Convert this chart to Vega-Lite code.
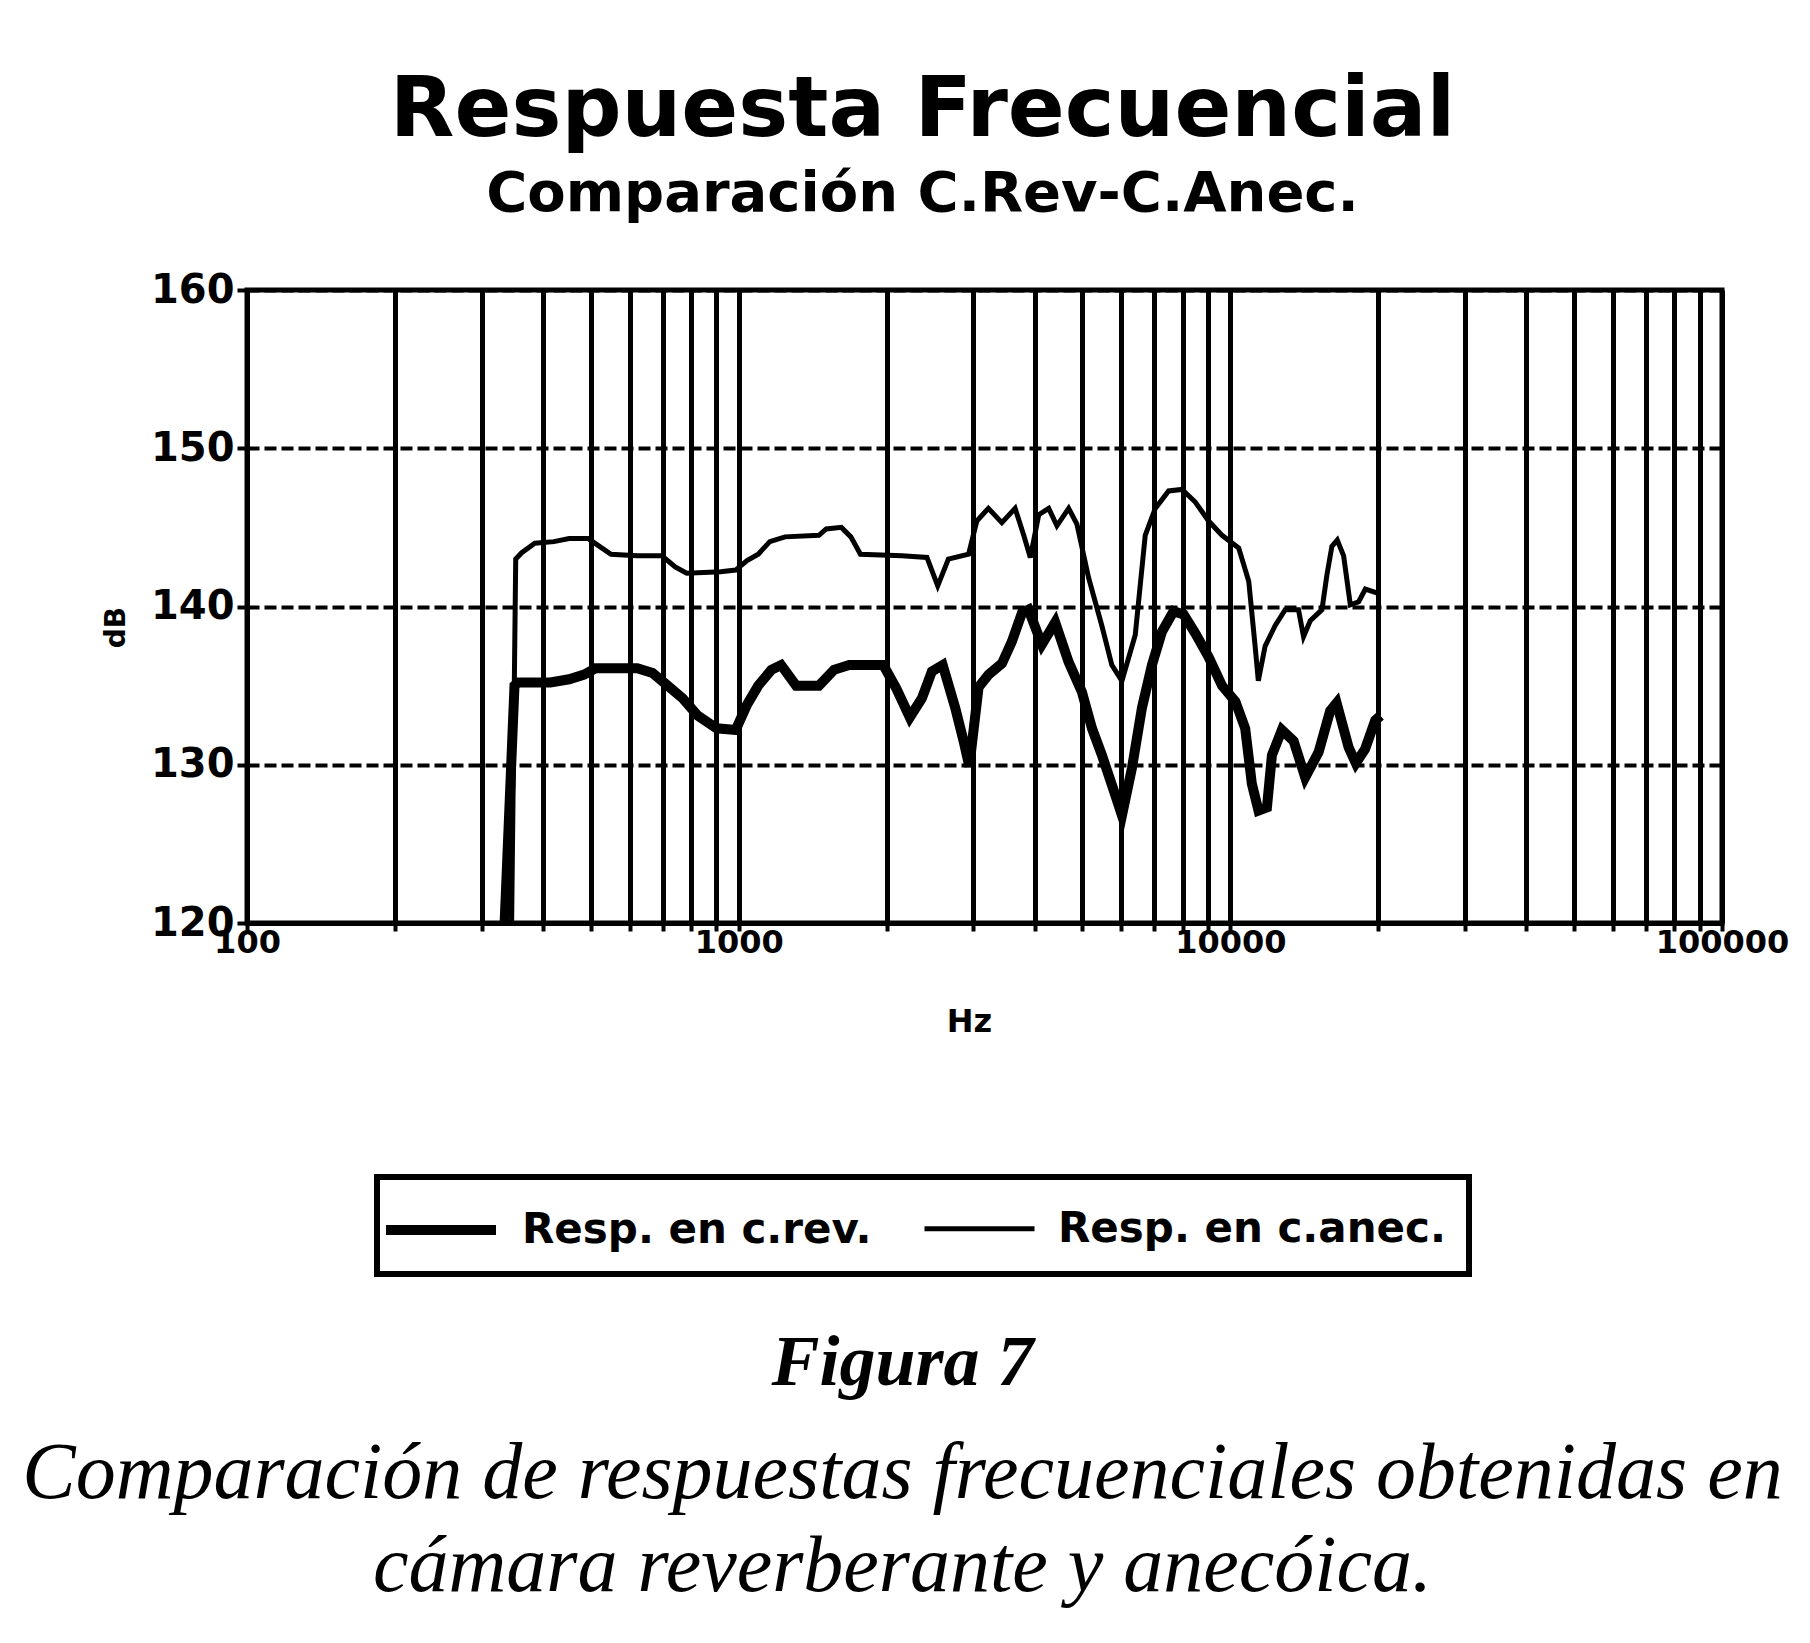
{
 "$schema": "https://vega.github.io/schema/vega-lite/v6.json",
 "background": "white",
 "padding": {"left": 22, "top": 66, "right": 5, "bottom": 5},
 "title": {
  "text": "Figura 7",
  "subtitle": ["Comparación de respuestas frecuenciales obtenidas en", "cámara reverberante y anecóica."],
  "orient": "bottom", "anchor": "middle", "frame": "group", "dx": -82, "offset": 51,
  "font": "Liberation Serif", "fontSize": 72, "fontWeight": "bold", "fontStyle": "italic", "color": "black",
  "subtitleFont": "Liberation Serif", "subtitleFontSize": 80, "subtitleFontStyle": "italic", "subtitleFontWeight": "normal",
  "subtitleColor": "black", "subtitleLineHeight": 93, "subtitlePadding": 35
 },
 "vconcat": [
  {
   "title": {
    "text": "Respuesta Frecuencial", "subtitle": "Comparación C.Rev-C.Anec.",
    "anchor": "middle", "frame": "group", "dx": -62, "offset": 47,
    "font": "DejaVu Sans", "fontSize": 84, "fontWeight": "bold", "color": "black",
    "subtitleFont": "DejaVu Sans", "subtitleFontSize": 56, "subtitleFontWeight": "bold", "subtitleColor": "black",
    "subtitlePadding": 13
   },
   "width": 1475,
   "height": 633,
   "data": {"values": [
    {"f": 343, "db": 112, "series": "Resp. en c.anec."},
    {"f": 352, "db": 143.0, "series": "Resp. en c.anec."},
    {"f": 362, "db": 143.4, "series": "Resp. en c.anec."},
    {"f": 385, "db": 144.0, "series": "Resp. en c.anec."},
    {"f": 421, "db": 144.1, "series": "Resp. en c.anec."},
    {"f": 452, "db": 144.3, "series": "Resp. en c.anec."},
    {"f": 494, "db": 144.3, "series": "Resp. en c.anec."},
    {"f": 521, "db": 143.8, "series": "Resp. en c.anec."},
    {"f": 550, "db": 143.3, "series": "Resp. en c.anec."},
    {"f": 622, "db": 143.2, "series": "Resp. en c.anec."},
    {"f": 698, "db": 143.2, "series": "Resp. en c.anec."},
    {"f": 743, "db": 142.5, "series": "Resp. en c.anec."},
    {"f": 784, "db": 142.1, "series": "Resp. en c.anec."},
    {"f": 919, "db": 142.2, "series": "Resp. en c.anec."},
    {"f": 986, "db": 142.3, "series": "Resp. en c.anec."},
    {"f": 1040, "db": 142.9, "series": "Resp. en c.anec."},
    {"f": 1096, "db": 143.3, "series": "Resp. en c.anec."},
    {"f": 1157, "db": 144.1, "series": "Resp. en c.anec."},
    {"f": 1242, "db": 144.4, "series": "Resp. en c.anec."},
    {"f": 1456, "db": 144.5, "series": "Resp. en c.anec."},
    {"f": 1507, "db": 144.9, "series": "Resp. en c.anec."},
    {"f": 1618, "db": 145.0, "series": "Resp. en c.anec."},
    {"f": 1691, "db": 144.4, "series": "Resp. en c.anec."},
    {"f": 1769, "db": 143.3, "series": "Resp. en c.anec."},
    {"f": 2148, "db": 143.2, "series": "Resp. en c.anec."},
    {"f": 2415, "db": 143.1, "series": "Resp. en c.anec."},
    {"f": 2540, "db": 141.3, "series": "Resp. en c.anec."},
    {"f": 2670, "db": 143.0, "series": "Resp. en c.anec."},
    {"f": 2935, "db": 143.3, "series": "Resp. en c.anec."},
    {"f": 3050, "db": 145.4, "series": "Resp. en c.anec."},
    {"f": 3220, "db": 146.2, "series": "Resp. en c.anec."},
    {"f": 3430, "db": 145.3, "series": "Resp. en c.anec."},
    {"f": 3650, "db": 146.2, "series": "Resp. en c.anec."},
    {"f": 3800, "db": 144.5, "series": "Resp. en c.anec."},
    {"f": 3919, "db": 143.1, "series": "Resp. en c.anec."},
    {"f": 4077, "db": 145.8, "series": "Resp. en c.anec."},
    {"f": 4272, "db": 146.2, "series": "Resp. en c.anec."},
    {"f": 4439, "db": 145.1, "series": "Resp. en c.anec."},
    {"f": 4690, "db": 146.2, "series": "Resp. en c.anec."},
    {"f": 4875, "db": 145.2, "series": "Resp. en c.anec."},
    {"f": 5150, "db": 141.8, "series": "Resp. en c.anec."},
    {"f": 5477, "db": 138.8, "series": "Resp. en c.anec."},
    {"f": 5741, "db": 136.3, "series": "Resp. en c.anec."},
    {"f": 6018, "db": 135.3, "series": "Resp. en c.anec."},
    {"f": 6406, "db": 138.2, "series": "Resp. en c.anec."},
    {"f": 6713, "db": 144.5, "series": "Resp. en c.anec."},
    {"f": 7036, "db": 146.2, "series": "Resp. en c.anec."},
    {"f": 7490, "db": 147.3, "series": "Resp. en c.anec."},
    {"f": 7973, "db": 147.4, "series": "Resp. en c.anec."},
    {"f": 8486, "db": 146.6, "series": "Resp. en c.anec."},
    {"f": 9034, "db": 145.4, "series": "Resp. en c.anec."},
    {"f": 9617, "db": 144.5, "series": "Resp. en c.anec."},
    {"f": 10400, "db": 143.7, "series": "Resp. en c.anec."},
    {"f": 10900, "db": 141.6, "series": "Resp. en c.anec."},
    {"f": 11230, "db": 137.5, "series": "Resp. en c.anec."},
    {"f": 11400, "db": 135.3, "series": "Resp. en c.anec."},
    {"f": 11770, "db": 137.5, "series": "Resp. en c.anec."},
    {"f": 12340, "db": 138.8, "series": "Resp. en c.anec."},
    {"f": 12930, "db": 139.8, "series": "Resp. en c.anec."},
    {"f": 13760, "db": 139.8, "series": "Resp. en c.anec."},
    {"f": 14090, "db": 138.1, "series": "Resp. en c.anec."},
    {"f": 14540, "db": 139.1, "series": "Resp. en c.anec."},
    {"f": 15360, "db": 139.8, "series": "Resp. en c.anec."},
    {"f": 15720, "db": 142.0, "series": "Resp. en c.anec."},
    {"f": 16090, "db": 143.8, "series": "Resp. en c.anec."},
    {"f": 16500, "db": 144.2, "series": "Resp. en c.anec."},
    {"f": 17000, "db": 143.2, "series": "Resp. en c.anec."},
    {"f": 17540, "db": 140.1, "series": "Resp. en c.anec."},
    {"f": 18240, "db": 140.3, "series": "Resp. en c.anec."},
    {"f": 18820, "db": 141.1, "series": "Resp. en c.anec."},
    {"f": 19710, "db": 140.9, "series": "Resp. en c.anec."},
    {"f": 20000, "db": 140.8, "series": "Resp. en c.anec."},
    {"f": 326, "db": 112, "series": "Resp. en c.rev."},
    {"f": 350, "db": 135.0, "series": "Resp. en c.rev."},
    {"f": 356, "db": 135.2, "series": "Resp. en c.rev."},
    {"f": 414, "db": 135.2, "series": "Resp. en c.rev."},
    {"f": 452, "db": 135.4, "series": "Resp. en c.rev."},
    {"f": 485, "db": 135.7, "series": "Resp. en c.rev."},
    {"f": 512, "db": 136.1, "series": "Resp. en c.rev."},
    {"f": 622, "db": 136.1, "series": "Resp. en c.rev."},
    {"f": 668, "db": 135.8, "series": "Resp. en c.rev."},
    {"f": 717, "db": 135.0, "series": "Resp. en c.rev."},
    {"f": 769, "db": 134.2, "series": "Resp. en c.rev."},
    {"f": 826, "db": 133.1, "series": "Resp. en c.rev."},
    {"f": 902, "db": 132.3, "series": "Resp. en c.rev."},
    {"f": 986, "db": 132.2, "series": "Resp. en c.rev."},
    {"f": 1040, "db": 133.8, "series": "Resp. en c.rev."},
    {"f": 1096, "db": 135.0, "series": "Resp. en c.rev."},
    {"f": 1166, "db": 136.0, "series": "Resp. en c.rev."},
    {"f": 1220, "db": 136.3, "series": "Resp. en c.rev."},
    {"f": 1309, "db": 135.0, "series": "Resp. en c.rev."},
    {"f": 1456, "db": 135.0, "series": "Resp. en c.rev."},
    {"f": 1563, "db": 136.0, "series": "Resp. en c.rev."},
    {"f": 1678, "db": 136.3, "series": "Resp. en c.rev."},
    {"f": 1969, "db": 136.3, "series": "Resp. en c.rev."},
    {"f": 2094, "db": 134.8, "series": "Resp. en c.rev."},
    {"f": 2229, "db": 133.0, "series": "Resp. en c.rev."},
    {"f": 2359, "db": 134.2, "series": "Resp. en c.rev."},
    {"f": 2472, "db": 135.9, "series": "Resp. en c.rev."},
    {"f": 2600, "db": 136.3, "series": "Resp. en c.rev."},
    {"f": 2757, "db": 133.6, "series": "Resp. en c.rev."},
    {"f": 2867, "db": 131.5, "series": "Resp. en c.rev."},
    {"f": 2945, "db": 129.9, "series": "Resp. en c.rev."},
    {"f": 3076, "db": 134.9, "series": "Resp. en c.rev."},
    {"f": 3224, "db": 135.7, "series": "Resp. en c.rev."},
    {"f": 3432, "db": 136.4, "series": "Resp. en c.rev."},
    {"f": 3596, "db": 137.8, "series": "Resp. en c.rev."},
    {"f": 3769, "db": 139.6, "series": "Resp. en c.rev."},
    {"f": 3886, "db": 139.8, "series": "Resp. en c.rev."},
    {"f": 4137, "db": 137.6, "series": "Resp. en c.rev."},
    {"f": 4403, "db": 139.0, "series": "Resp. en c.rev."},
    {"f": 4688, "db": 136.5, "series": "Resp. en c.rev."},
    {"f": 4990, "db": 134.6, "series": "Resp. en c.rev."},
    {"f": 5231, "db": 132.3, "series": "Resp. en c.rev."},
    {"f": 5481, "db": 130.6, "series": "Resp. en c.rev."},
    {"f": 5833, "db": 128.1, "series": "Resp. en c.rev."},
    {"f": 6020, "db": 126.8, "series": "Resp. en c.rev."},
    {"f": 6309, "db": 129.8, "series": "Resp. en c.rev."},
    {"f": 6611, "db": 133.6, "series": "Resp. en c.rev."},
    {"f": 6927, "db": 136.3, "series": "Resp. en c.rev."},
    {"f": 7259, "db": 138.4, "series": "Resp. en c.rev."},
    {"f": 7667, "db": 139.7, "series": "Resp. en c.rev."},
    {"f": 8035, "db": 139.5, "series": "Resp. en c.rev."},
    {"f": 8486, "db": 138.3, "series": "Resp. en c.rev."},
    {"f": 9034, "db": 136.8, "series": "Resp. en c.rev."},
    {"f": 9617, "db": 135.0, "series": "Resp. en c.rev."},
    {"f": 10240, "db": 134.0, "series": "Resp. en c.rev."},
    {"f": 10720, "db": 132.3, "series": "Resp. en c.rev."},
    {"f": 11060, "db": 128.8, "series": "Resp. en c.rev."},
    {"f": 11410, "db": 127.1, "series": "Resp. en c.rev."},
    {"f": 11870, "db": 127.3, "series": "Resp. en c.rev."},
    {"f": 12150, "db": 130.6, "series": "Resp. en c.rev."},
    {"f": 12730, "db": 132.2, "series": "Resp. en c.rev."},
    {"f": 13450, "db": 131.5, "series": "Resp. en c.rev."},
    {"f": 14200, "db": 129.2, "series": "Resp. en c.rev."},
    {"f": 15120, "db": 130.8, "series": "Resp. en c.rev."},
    {"f": 15960, "db": 133.4, "series": "Resp. en c.rev."},
    {"f": 16450, "db": 133.9, "series": "Resp. en c.rev."},
    {"f": 17400, "db": 131.1, "series": "Resp. en c.rev."},
    {"f": 18000, "db": 130.1, "series": "Resp. en c.rev."},
    {"f": 18800, "db": 131.0, "series": "Resp. en c.rev."},
    {"f": 19710, "db": 132.8, "series": "Resp. en c.rev."},
    {"f": 20200, "db": 133.1, "series": "Resp. en c.rev."}
   ]},
   "mark": {"type": "line", "clip": true, "color": "black"},
   "encoding": {
    "x": {
     "field": "f", "type": "quantitative", "title": "Hz",
     "scale": {"type": "log", "domain": [100, 100000]},
     "axis": {
      "values": [100,200,300,400,500,600,700,800,900,1000,2000,3000,4000,5000,6000,7000,8000,9000,10000,20000,30000,40000,50000,60000,70000,80000,90000,100000],
      "labelExpr": "indexof([100,1000,10000,100000], datum.value) >= 0 ? format(datum.value, 'd') : ''",
      "grid": true, "gridColor": "black", "gridWidth": 5, "gridOpacity": 1,
      "domainColor": "black", "domainWidth": 5, "tickColor": "black", "tickWidth": 4, "tickSize": 8,
      "labelFont": "DejaVu Sans", "labelFontSize": 32, "labelFontWeight": "bold", "labelColor": "black",
      "labelPadding": -4, "labelOverlap": false, "labelFlush": false, "labelBound": false,
      "titleFont": "DejaVu Sans", "titleFontSize": 32, "titleFontWeight": "bold", "titleColor": "black",
      "titleX": 722, "titleY": 108, "titleBaseline": "alphabetic"
     }
    },
    "y": {
     "field": "db", "type": "quantitative", "title": "dB",
     "scale": {"domain": [120, 160], "zero": false},
     "axis": {
      "values": [120,130,140,150,160],
      "grid": true, "gridColor": "black", "gridWidth": 4, "gridDash": [12, 5], "gridOpacity": 1,
      "domainColor": "black", "domainWidth": 5, "tickColor": "black", "tickWidth": 4, "tickSize": 10,
      "labelFont": "DejaVu Sans", "labelFontSize": 40, "labelFontWeight": "bold", "labelColor": "black",
      "labelPadding": 3, "labelFlush": false,
      "titleFont": "DejaVu Sans", "titleFontSize": 28, "titleFontWeight": "bold", "titleColor": "black",
      "titlePadding": 20, "titleY": 337
     }
    },
    "strokeWidth": {
     "field": "series", "type": "ordinal",
     "scale": {"domain": ["Resp. en c.rev.", "Resp. en c.anec."], "range": [10, 5]},
     "legend": {
      "title": null, "orient": "none", "legendX": 130, "legendY": 887, "direction": "horizontal",
      "symbolType": "M-2.2,0H2.2", "symbolSize": 2500, "symbolStrokeColor": "black", "symbolOffset": 11,
      "labelFont": "DejaVu Sans", "labelFontSize": 42, "labelFontWeight": "bold", "labelColor": "black",
      "labelOffset": 51, "columnPadding": 42, "padding": 23, "labelLimit": 0,
      "strokeColor": "black",
      "encode": {
       "legend": {"update": {"strokeWidth": {"value": 6}}},
       "symbols": {"update": {"strokeWidth": {"value": 6}}}
      }
     }
    }
   }
  }
 ],
 "config": {
  "font": "DejaVu Sans",
  "view": {"stroke": "black", "strokeWidth": 5}
 }
}
